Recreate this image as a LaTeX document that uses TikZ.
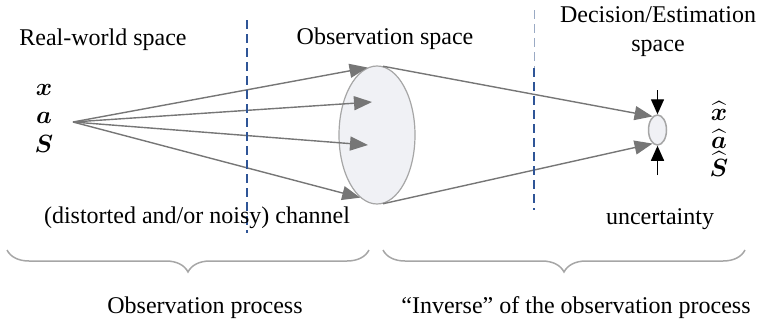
\documentclass[tikz,border=0pt]{standalone}
\usepackage{amsmath}
\usepackage{amssymb}
\usepackage{fontspec}
\setmainfont{Liberation Serif}
\usepackage{xcolor}
\definecolor{grey600}{HTML}{767676}
\definecolor{grey400}{HTML}{A6A6A6}
\definecolor{grey100}{HTML}{F0F1F5}
\definecolor{blue800}{HTML}{2F5597}
\definecolor{blue300}{HTML}{9AAAC4}
\usepackage{tikz}
\usetikzlibrary{shapes.geometric, arrows.meta, positioning, calc, decorations.pathreplacing}

\begin{document}
\begin{tikzpicture}[
    x=1pt, y=-1pt,
    font=\fontsize{24}{29}\selectfont,
    >=Stealth,
    label/.style={inner sep=0pt, align=center},
    var/.style={inner sep=0pt, font=\fontsize{25}{29}\selectfont},
    hatvar/.style={var, anchor=base, text height=14pt, text depth=0pt},
    cloud/.style={ellipse, draw=grey400, fill=grey100, line width=1.2pt, inner sep=0pt},
    ray/.style={draw=grey600, line width=1.4pt, -{Triangle[length=18pt, width=14pt]}},
    bound/.style={draw=blue800, line width=1.6pt, dash pattern=on 9pt off 5pt},
    pinch/.style={draw=black, line width=1.4pt, -{Triangle[length=15pt, width=13pt]}},
    curly/.style={draw=grey400, line width=1.5pt, decorate,
                  decoration={brace, mirror, amplitude=22pt, aspect=0.5}}
]
\useasboundingbox (0,0) rectangle (759,324);

% ── Space Titles ──
\node[label] (ttlreal) at (103,40) {Real-world space};
\node[label] (ttlobs)  at (385,39) {Observation space};
\node[label] (ttldec)  at (658,32) {Decision/Estimation\\space};

% ── Real-world Variables ──
\node[var] (vx) at (44,90)  {$\boldsymbol{x}$};
\node[var] (va) at (44,118) {$\boldsymbol{a}$};
\node[var] (vs) at (44,144) {$\boldsymbol{S}$};
\coordinate (src) at (73,122);

% ── Observation + Estimate Regions ──
\node[cloud, minimum width=76pt, minimum height=138pt] (obs) at (377,135) {};
\node[cloud, line width=1.5pt, minimum width=18pt, minimum height=30pt] (est) at (657.5,130) {};

\node[hatvar] (hx) at (719,120) {$\widehat{\boldsymbol{x}}$};
\node[hatvar] (ha) at (719,148) {$\widehat{\boldsymbol{a}}$};
\node[hatvar] (hs) at (719,176) {$\widehat{\boldsymbol{S}}$};

% ── Channel Rays ──
\coordinate (in2) at (372,102);
\coordinate (in3) at (368,145);
\draw[ray] (src) -- (obs.98);
\draw[ray] (src) -- (in2);
\draw[ray] (src) -- (in3);
\draw[ray] (src) -- (obs.255);

% ── Inverse Rays ──
\draw[ray] (obs.85) -- (est.110);
\draw[ray] (obs.275) -- (est.250);

% ── Uncertainty Pinch ──
\coordinate (pintop) at (657.5,90);
\coordinate (pinbot) at (657.5,175);
\draw[pinch] (pintop) -- (est.north);
\draw[pinch] (pinbot) -- (est.south);

% ── Space Boundaries ──
\coordinate (b1top) at (247,20);
\coordinate (b1bot) at (247,233);
\coordinate (b2top) at (534,10);
\coordinate (b2mid) at (534,68);
\coordinate (b2bot) at (534,210);
\draw[bound] (b1top) -- (b1bot);
\draw[draw=blue300, line width=0.7pt, dash pattern=on 9pt off 5pt] (b2top) -- (b2mid);
\draw[bound] (b2mid) -- (b2bot);

% ── Lower Captions ──
\node[label] (chan) at (197,218) {(distorted and/or noisy) channel};
\node[label] (unc)  at (660,219) {uncertainty};

% ── Process Braces ──
\draw[curly] (7,250) -- (369,250);
\draw[curly] (383,250) -- (745,250);
\node[label] (proc1) at (205,308) {Observation process};
\node[label] (proc2) at (576,308) {``Inverse'' of the observation process};

\end{tikzpicture}
\end{document}
